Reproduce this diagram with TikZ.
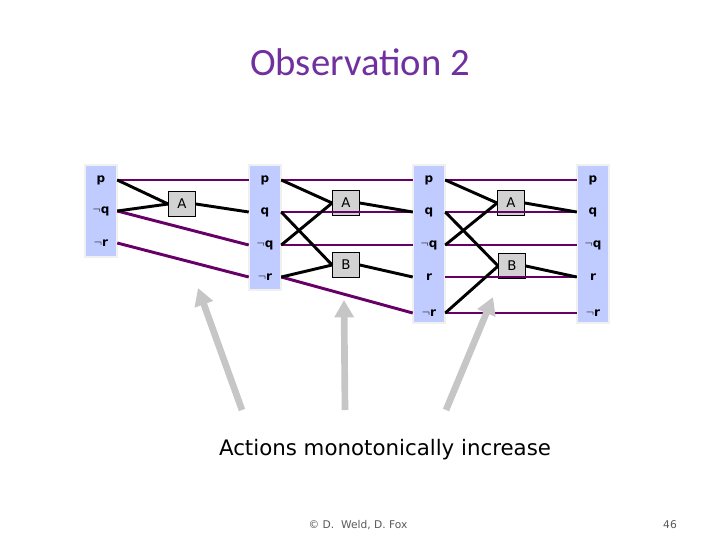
\documentclass[tikz,border=0pt]{standalone}
\usepackage{fontspec}
\setmainfont{Carlito}
\newfontfamily\comic{DejaVu Sans}
\usetikzlibrary{arrows.meta}
\definecolor{ttl}{HTML}{7030A0}
\definecolor{noopc}{HTML}{660066}
\definecolor{colc}{HTML}{C0CCFF}
\begin{document}
\begin{tikzpicture}[x=0.75pt,y=-0.75pt,
 col/.style={fill=colc,draw=gray!12,line width=1.5pt},
 lab/.style={font=\comic\bfseries\fontsize{9}{10}\selectfont,inner sep=0pt,minimum width=24pt,minimum height=10pt},
 act/.style={draw=black,fill=gray!35,line width=0.8pt,minimum width=20pt,minimum height=19pt,inner sep=0pt,font=\comic\fontsize{10}{11}\selectfont},
 noop/.style={draw=noopc,line width=2.2pt},
 pre/.style={draw=black,line width=2.2pt},
 garr/.style={draw=gray!45,line width=5pt,-{Triangle[length=13pt,width=14pt]}}]
\useasboundingbox (0,0) rectangle (720,540);
\node[font=\fontsize{29}{32}\selectfont,text=ttl] (title) at (360,62) {Observation 2};
% columns
\fill[col] (85,165) rectangle (117,257);
\fill[col] (249,165) rectangle (281,290);
\fill[col] (413,165) rectangle (445,323);
\fill[col] (577,165) rectangle (609,323);
% labels
\node[lab] (a1) at (101,180) {p};
\node[lab] (a2) at (101,211) {$\neg$q};
\node[lab] (a3) at (101,243) {$\neg$r};
\node[lab] (b1) at (265,180) {p};
\node[lab] (b2) at (265,212) {q};
\node[lab] (b3) at (265,245) {$\neg$q};
\node[lab] (b4) at (265,277) {$\neg$r};
\foreach \c/\x in {c/429,d/593}{
\node[lab] (\c1) at (\x,180) {p};
\node[lab] (\c2) at (\x,212) {q};
\node[lab] (\c3) at (\x,245) {$\neg$q};
\node[lab] (\c4) at (\x,277) {r};
\node[lab] (\c5) at (\x,313) {$\neg$r};}
% actions
\node[act] (A1) at (182,204) {A};
\node[act] (A2) at (346,203) {A};
\node[act] (B2) at (346,265) {B};
\node[act] (A3) at (511,203) {A};
\node[act] (B3) at (512,266) {B};
% noops
\draw[noop] (a1.east) -- (b1.west);
\draw[noop] (a2.east) -- (b3.west);
\draw[noop] (a3.east) -- (b4.west);
\draw[noop] (b1.east) -- (c1.west);
\draw[noop] (b2.east) -- (c2.west);
\draw[noop] (b3.east) -- (c3.west);
\draw[noop] (b4.east) -- (c5.west);
\foreach \i in {1,...,5} \draw[noop] (c\i.east) -- (d\i.west);
% preconditions/effects
\draw[pre] (a1.east) -- (A1.west);
\draw[pre] (a2.east) -- (A1.west);
\draw[pre] (A1.east) -- (b2.west);
\draw[pre] (b1.east) -- (A2.west);
\draw[pre] (b3.east) -- (A2.west);
\draw[pre] (b2.east) -- (B2.west);
\draw[pre] (b4.east) -- (B2.west);
\draw[pre] (A2.east) -- (c2.west);
\draw[pre] (B2.east) -- (c4.west);
\draw[pre] (c1.east) -- (A3.west);
\draw[pre] (c3.east) -- (A3.west);
\draw[pre] (c2.east) -- (B3.west);
\draw[pre] (c5.east) -- (B3.west);
\draw[pre] (A3.east) -- (d2.west);
\draw[pre] (B3.east) -- (d4.west);
% arrows
\coordinate (g1) at (242,410); \coordinate (h1) at (198,288);
\coordinate (g2) at (345,410); \coordinate (h2) at (344,300);
\coordinate (g3) at (446,410); \coordinate (h3) at (493,297);
\draw[garr] (g1) -- (h1);
\draw[garr] (g2) -- (h2);
\draw[garr] (g3) -- (h3);
\node[font=\comic\fontsize{16}{18}\selectfont] (cap) at (385,450) {Actions monotonically increase};
\node[font=\comic\fontsize{8}{10}\selectfont,text=gray!70!black] (foot) at (358,525) {\textcopyright{} D.\ \ Weld, D. Fox};
\node[font=\comic\fontsize{8}{10}\selectfont,text=gray!70!black] (pg) at (670,525) {46};
\end{tikzpicture}
\end{document}
